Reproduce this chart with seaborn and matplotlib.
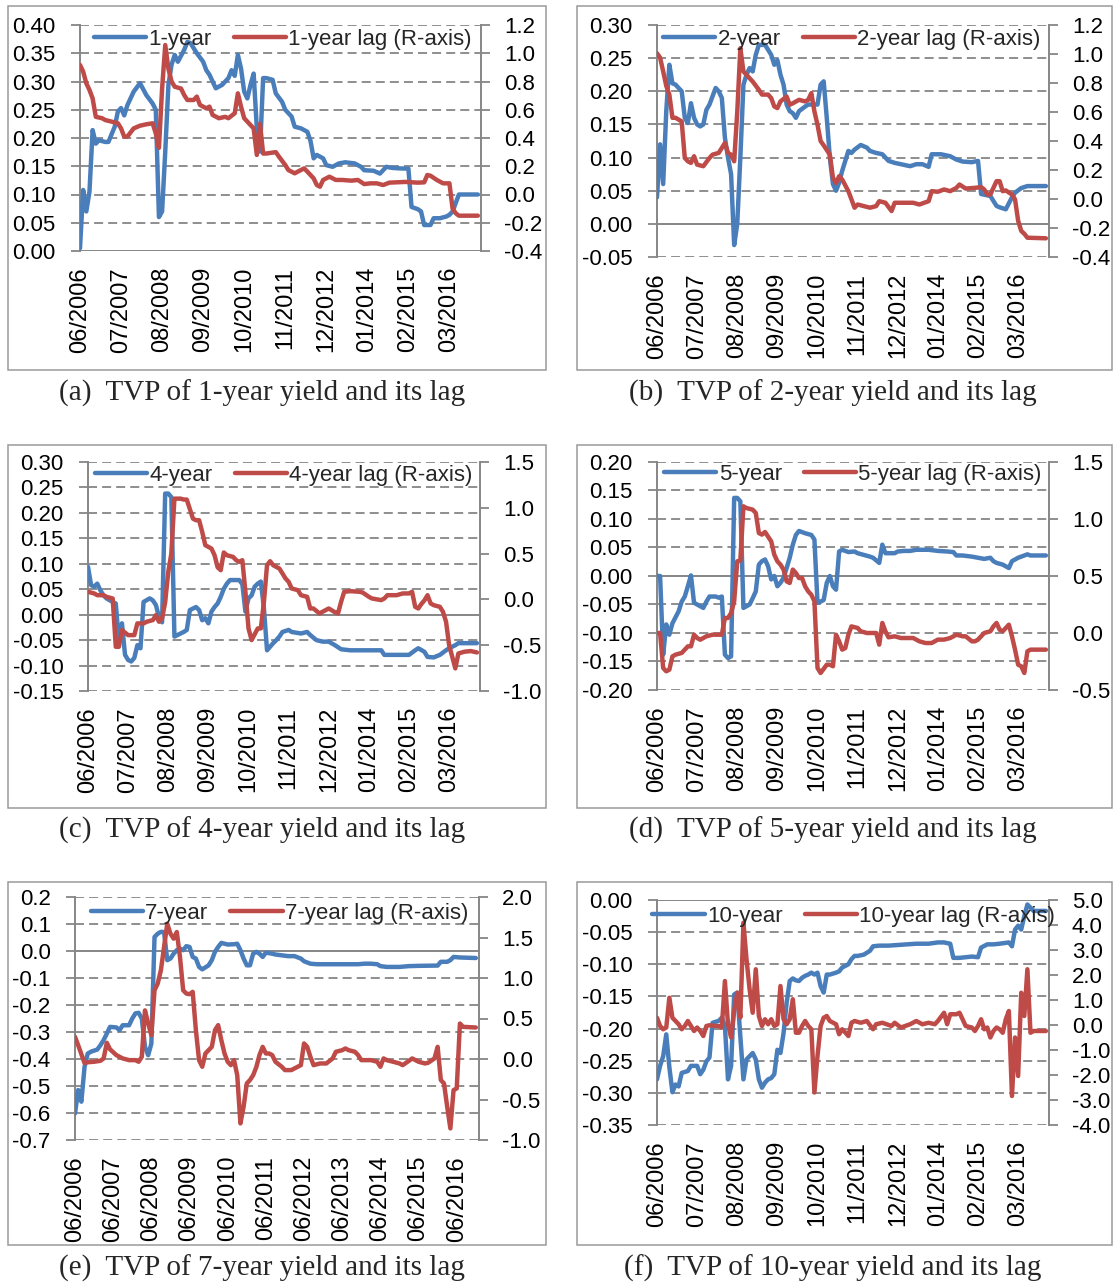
import numpy as np
import pandas as pd
import matplotlib
matplotlib.use('Agg')
import matplotlib.pyplot as plt
import seaborn as sns
from matplotlib.patches import Rectangle

# (month index, value); month 0 = 06/2006, 126 = 12/2016
one_y = [(0, .005), (1, .108), (2, .07), (3, .105), (4, .214), (5, .19), (6, .196), (8, .193), (9, .193), (11, .22),
         (12, .247), (13, .253), (14, .24), (15, .258), (17, .282), (19, .297), (21, .276), (23, .261), (24, .25),
         (25, .06), (26, .07), (27, .176), (28, .294), (29, .33), (30, .347), (31, .335), (33, .356), (34, .37),
         (35, .368), (37, .35), (39, .335), (40, .32), (41, .312), (42, .30), (43, .288), (45, .294), (47, .306),
         (48, .32), (49, .31), (50, .347), (51, .323), (52, .282), (53, .27), (54, .294), (55, .314), (56, .217),
         (57, .176), (58, .306), (59, .306), (61, .303), (62, .279), (64, .264), (65, .25), (66, .244), (67, .238),
         (68, .22), (70, .217), (72, .211), (73, .195), (74, .164), (75, .17), (77, .164), (78, .152), (80, .149),
         (82, .155), (84, .157), (87, .155), (89, .149), (90, .143), (93, .142), (95, .137), (96, .143), (97, .149),
         (99, .147), (102, .146), (104, .146), (105, .078), (107, .074), (108, .07), (109, .046), (111, .046),
         (112, .058), (114, .058), (116, .061), (117, .064), (118, .07), (119, .085), (120, .10), (126, .10)]
one_lag = [(0, .917), (1, .87), (2, .787), (3, .74), (4, .68), (5, .55), (7, .54), (8, .527), (10, .516), (12, .504),
           (13, .468), (14, .41), (15, .41), (17, .468), (19, .487), (21, .497), (23, .504), (24, .433), (25, .33),
           (26, .75), (27, 1.058), (28, .89), (29, .8), (30, .763), (32, .75), (33, .704), (34, .669), (36, .669),
           (37, .693), (38, .634), (40, .61), (41, .622), (42, .563), (44, .54), (46, .55), (47, .54), (49, .575),
           (50, .716), (51, .622), (52, .54), (54, .492), (55, .468), (56, .28), (57, .5), (58, .29), (59, .29),
           (62, .30), (63, .268), (65, .209), (66, .173), (68, .15), (69, .162), (71, .185), (72, .162), (74, .114),
           (75, .067), (76, .055), (77, .103), (79, .126), (81, .103), (83, .103), (86, .098), (88, .103), (90, .074),
           (92, .079), (94, .079), (96, .067), (98, .084), (100, .086), (103, .089), (107, .084), (109, .086),
           (110, .138), (111, .133), (113, .103), (115, .079), (117, .079), (118, -.1), (119, -.133), (120, -.15),
           (126, -.15)]

two_y = [(0, .04), (1, .12), (2, .06), (3, .17), (4, .24), (5, .212), (6, .21), (8, .20), (9, .16), (10, .152),
         (11, .182), (12, .16), (13, .15), (14, .147), (15, .15), (16, .172), (17, .18), (19, .205), (20, .20),
         (21, .19), (22, .13), (23, .10), (24, .075), (25, -.032), (26, .0), (27, .10), (28, .21), (29, .225),
         (30, .235), (31, .23), (32, .255), (33, .27), (35, .27), (37, .255), (38, .24), (39, .247), (40, .225),
         (41, .21), (42, .18), (43, .17), (44, .167), (45, .16), (46, .17), (48, .177), (49, .18), (52, .18),
         (53, .21), (54, .215), (55, .16), (56, .10), (57, .06), (58, .05), (59, .062), (60, .08), (62, .11),
         (63, .107), (64, .112), (66, .119), (68, .115), (69, .11), (71, .107), (73, .105), (75, .095), (77, .092),
         (79, .09), (82, .087), (84, .09), (86, .09), (88, .086), (89, .105), (92, .105), (95, .102), (97, .097),
         (99, .094), (102, .093), (104, .095), (105, .045), (108, .042), (110, .027), (111, .025), (113, .022),
         (115, .04), (116, .047), (118, .054), (120, .057), (126, .057)]
two_lag = [(0, 1.005), (1, .975), (2, .88), (3, .78), (4, .72), (5, .56), (6, .56), (8, .535), (9, .283), (10, .26),
           (11, .249), (12, .295), (13, .237), (15, .226), (17, .283), (18, .306), (20, .318), (22, .386), (23, .318),
           (24, .306), (25, .26), (26, .6), (27, 1.04), (28, .88), (30, .833), (31, .81), (33, .753), (34, .72),
           (36, .72), (37, .696), (38, .638), (39, .627), (40, .673), (42, .707), (43, .65), (44, .66), (46, .684),
           (48, .673), (49, .684), (50, .73), (51, .604), (52, .512), (53, .40), (54, .37), (56, .306), (57, .146),
           (58, .111), (59, .157), (60, .134), (62, .054), (63, -.003), (64, -.06), (65, -.038), (67, -.049),
           (69, -.06), (71, -.049), (72, -.015), (74, -.026), (76, -.083), (77, -.026), (80, -.026), (83, -.026),
           (85, -.038), (88, -.015), (89, .054), (91, .05), (93, .066), (95, .054), (97, .077), (98, .1), (100, .072),
           (103, .077), (105, .082), (106, .066), (107, .031), (108, .031), (110, .123), (111, .123), (112, .054),
           (113, .059), (115, .031), (116, -.003), (117, -.15), (118, -.22), (119, -.24), (120, -.267), (126, -.271)]

four_y = [(0, .094), (1, .058), (2, .055), (3, .061), (4, .048), (5, .038), (6, .032), (8, .025), (9, .022),
          (10, -.053), (11, -.017), (12, -.079), (13, -.089), (14, -.092), (15, -.085), (16, -.06), (17, -.066),
          (18, .025), (20, .032), (21, .028), (22, .019), (23, -.005), (24, -.015), (25, .238), (26, .238),
          (27, .231), (28, -.043), (30, -.037), (31, -.034), (32, -.03), (33, .009), (35, .015), (36, .009),
          (37, -.011), (38, -.007), (39, -.017), (40, .006), (41, .015), (42, .022), (43, .035), (44, .051),
          (45, .061), (46, .068), (49, .068), (50, .06), (51, .006), (52, .032), (53, .038), (54, .055), (55, .061),
          (56, .065), (57, .012), (58, -.07), (59, -.063), (60, -.056), (61, -.05), (62, -.043), (63, -.034),
          (65, -.03), (66, -.034), (69, -.037), (71, -.034), (72, -.04), (74, -.05), (76, -.053), (78, -.053),
          (80, -.06), (82, -.068), (85, -.07), (95, -.07), (96, -.079), (104, -.079), (106, -.07), (107, -.066),
          (109, -.073), (110, -.083), (112, -.084), (114, -.079), (116, -.07), (117, -.066), (119, -.06),
          (120, -.056), (126, -.056)]
four_lag = [(0, .083), (2, .065), (3, .046), (5, .046), (6, .028), (8, .01), (9, -.517), (10, -.517), (11, -.335),
            (13, -.39), (15, -.39), (16, -.262), (18, -.262), (19, -.244), (21, -.226), (22, -.172), (23, -.244),
            (24, -.208), (25, -.03), (26, .3), (27, .5), (28, 1.1), (30, 1.1), (31, 1.09), (32, 1.09), (34, .882),
            (35, .864), (36, .864), (37, .737), (38, .592), (40, .555), (41, .482), (42, .35), (43, .319), (44, .512),
            (45, .482), (47, .464), (48, .428), (49, .41), (50, .428), (51, .083), (52, -.317), (53, -.444),
            (55, -.317), (56, -.317), (57, -.026), (58, .373), (59, .417), (60, .373), (62, .337), (63, .283),
            (64, .228), (65, .192), (66, .119), (68, .101), (69, .046), (71, .028), (72, -.099), (73, -.099),
            (75, -.153), (76, -.135), (78, -.099), (80, -.14), (81, -.153), (82, -.026), (83, .083), (85, .09),
            (88, .083), (89, .075), (91, .028), (92, .01), (95, -.008), (96, .01), (97, .046), (100, .046),
            (102, .065), (104, .065), (105, .083), (106, -.081), (107, -.099), (108, -.05), (109, -.01), (110, .046),
            (111, -.044), (112, -.063), (114, -.081), (115, -.135), (116, -.244), (117, -.5), (118, -.626),
            (119, -.753), (120, -.59), (122, -.571), (124, -.564), (126, -.579)]

five_y = [(0, 0.), (1, 0.), (2, -.138), (3, -.085), (4, -.103), (5, -.083), (7, -.062), (8, -.045), (9, -.036),
          (10, -.018), (11, .001), (12, -.047), (14, -.053), (15, -.056), (16, -.045), (17, -.036), (19, -.036),
          (20, -.038), (21, -.036), (22, -.138), (23, -.144), (24, -.141), (25, .137), (26, .137), (27, .131),
          (28, -.056), (30, -.05), (31, -.039), (32, -.027), (33, .02), (34, .026), (35, .029), (36, .017),
          (37, -.006), (38, 0.), (39, -.018), (40, -.012), (41, -.003), (42, .014), (43, .032), (44, .055),
          (45, .072), (46, .079), (47, .077), (48, .075), (50, .072), (51, .064), (52, -.047), (53, -.045),
          (54, -.042), (55, -.012), (56, 0.), (57, -.018), (58, -.024), (59, .043), (60, .046), (62, .042),
          (64, .043), (65, .04), (67, .037), (69, .034), (70, .032), (72, .023), (73, .055), (74, .04), (77, .04),
          (78, .043), (80, .044), (82, .044), (84, .046), (88, .046), (91, .044), (94, .043), (96, .042), (97, .036),
          (99, .036), (102, .034), (104, .032), (106, .03), (108, .032), (109, .026), (110, .023), (112, .02),
          (113, .017), (114, .014), (115, .026), (117, .032), (118, .034), (120, .038), (121, .036), (126, .036)]
five_lag = [(0, 0.), (1, 0.), (2, -.307), (3, -.336), (4, -.322), (5, -.205), (6, -.19), (8, -.175), (9, -.146),
            (10, -.117), (11, -.117), (12, -.015), (13, -.044), (14, -.059), (16, -.029), (18, -.015), (21, -.015),
            (22, .132), (23, .132), (24, .175), (25, .278), (26, .629), (27, .635), (28, 1.111), (29, 1.096),
            (31, 1.082), (32, 1.053), (33, .877), (34, .863), (35, .886), (37, .804), (38, .687), (39, .629),
            (40, .6), (41, .556), (42, .453), (43, .439), (44, .556), (45, .526), (46, .482), (47, .482), (48, .409),
            (49, .365), (50, .336), (51, .278), (52, -.307), (53, -.351), (55, -.278), (56, -.278), (57, -.292),
            (58, -.015), (59, -.073), (60, -.146), (61, -.132), (62, -.015), (63, .058), (65, .044), (66, .015),
            (68, 0.), (71, 0.), (72, -.102), (73, .088), (74, .015), (75, -.038), (77, -.029), (79, -.044),
            (83, -.044), (85, -.073), (87, -.088), (89, -.088), (91, -.058), (93, -.058), (95, -.044), (97, -.015),
            (99, -.029), (100, -.029), (102, -.073), (103, -.073), (104, -.058), (106, 0.), (108, .015), (109, .058),
            (110, .088), (111, .029), (112, .015), (113, .044), (114, .073), (115, -.029), (116, -.146),
            (117, -.278), (118, -.292), (119, -.351), (120, -.161), (121, -.146), (126, -.146)]

seven_y = [(0, -.602), (1, -.515), (2, -.558), (3, -.429), (4, -.38), (5, -.373), (7, -.365), (8, -.349), (9, -.33),
           (10, -.306), (11, -.281), (13, -.283), (14, -.293), (15, -.275), (17, -.275), (18, -.25), (19, -.231),
           (20, -.229), (21, -.25), (22, -.355), (23, -.386), (24, -.343), (25, .052), (26, .064), (27, .071),
           (28, .07), (29, -.034), (30, -.028), (31, -.01), (32, .003), (33, .009), (34, .003), (35, .018),
           (36, .015), (37, -.022), (38, -.028), (39, -.059), (40, -.068), (42, -.053), (43, -.034), (44, -.003),
           (45, .015), (46, .03), (48, .024), (50, .025), (51, .027), (52, .003), (53, -.028), (54, -.053),
           (55, -.053), (56, -.01), (57, -.003), (58, -.01), (59, -.022), (60, -.006), (62, -.01), (63, -.013),
           (65, -.016), (67, -.019), (69, -.019), (71, -.028), (72, -.038), (74, -.047), (76, -.049), (89, -.049),
           (91, -.047), (93, -.047), (95, -.049), (96, -.056), (98, -.059), (102, -.059), (105, -.056), (108, -.055),
           (114, -.054), (115, -.04), (117, -.04), (118, -.034), (119, -.022), (121, -.024), (126, -.026)]
seven_lag = [(0, .274), (1, .17), (2, .06), (3, -.05), (4, -.04), (6, -.034), (8, -.022), (9, .007), (10, .2),
             (11, .12), (13, .048), (15, .007), (17, -.014), (19, -.014), (20, -.034), (21, .027), (22, .6),
             (23, .44), (24, .294), (25, .849), (26, .931), (27, 1.096), (28, 1.383), (29, 1.67), (30, 1.548),
             (31, 1.486), (32, 1.568), (33, 1.26), (34, .849), (35, .808), (36, .8), (37, .829), (38, .356),
             (39, -.014), (40, -.096), (41, .068), (42, .109), (43, .15), (44, .356), (45, .418), (46, .233),
             (47, .068), (48, -.034), (49, -.076), (50, -.014), (51, -.2), (52, -.795), (53, -.589), (54, -.302),
             (55, -.26), (56, -.2), (57, -.1), (58, .05), (59, .15), (60, .068), (61, .068), (62, .048), (63, -.034),
             (65, -.096), (66, -.137), (68, -.137), (70, -.096), (71, -.076), (72, .192), (73, .15), (74, .027),
             (75, -.076), (77, -.055), (79, -.055), (81, .007), (82, .089), (84, .109), (85, .13), (86, .109),
             (88, .089), (89, .048), (90, -.014), (93, -.014), (95, -.034), (96, -.096), (97, .007), (98, -.014),
             (100, -.034), (102, -.055), (103, -.076), (105, -.022), (106, .007), (108, -.034), (110, -.055),
             (111, -.047), (113, .007), (114, .15), (115, -.26), (116, -.302), (117, -.589), (118, -.857),
             (119, -.384), (120, -.363), (121, .438), (122, .397), (126, .389)]

ten_y = [(0, -.279), (1, -.258), (2, -.243), (3, -.209), (4, -.26), (5, -.299), (6, -.287), (7, -.29), (8, -.269),
         (10, -.266), (11, -.258), (13, -.258), (14, -.271), (15, -.264), (16, -.251), (17, -.245), (18, -.191),
         (20, -.188), (21, -.183), (22, -.196), (23, -.279), (24, -.258), (25, -.147), (26, -.144), (27, -.212),
         (28, -.279), (29, -.248), (30, -.243), (31, -.238), (32, -.248), (33, -.279), (34, -.292), (35, -.284),
         (36, -.279), (37, -.277), (38, -.271), (39, -.233), (40, -.238), (41, -.207), (42, -.16), (43, -.126),
         (44, -.122), (45, -.125), (46, -.126), (47, -.121), (48, -.118), (49, -.116), (50, -.113), (51, -.116),
         (52, -.113), (53, -.134), (54, -.144), (55, -.116), (56, -.116), (58, -.113), (59, -.111), (60, -.105),
         (62, -.1), (63, -.092), (64, -.087), (65, -.087), (67, -.085), (69, -.079), (70, -.072), (72, -.071),
         (75, -.071), (78, -.07), (81, -.069), (84, -.068), (88, -.068), (91, -.066), (93, -.066), (95, -.068),
         (96, -.09), (98, -.09), (100, -.089), (102, -.088), (104, -.089), (105, -.074), (107, -.069), (109, -.069),
         (111, -.068), (114, -.066), (115, -.072), (116, -.046), (117, -.04), (118, -.046), (119, -.025),
         (120, -.007), (121, -.012), (122, -.017), (126, -.017)]
ten_lag = [(0, .29), (1, -.04), (2, -.17), (3, -.1), (4, 1.09), (5, .29), (6, .16), (7, .03), (8, -.17), (9, -.04),
           (10, .16), (11, -.04), (12, -.24), (13, -.1), (14, -.24), (15, -.44), (16, -.04), (17, -.01), (19, -.04),
           (20, -.04), (21, -.1), (22, 1.76), (23, .03), (24, -.5), (25, .56), (26, 1.29), (27, .3), (28, 4.09),
           (29, 2.63), (30, 1.43), (31, .49), (32, 2.23), (33, .36), (34, -.04), (35, .23), (36, .03), (37, .23),
           (38, -.04), (39, .03), (40, 1.56), (41, .23), (42, .03), (43, .23), (44, 1.03), (45, -.31), (46, -.31),
           (47, -.04), (48, .16), (49, -.04), (50, -.17), (51, -2.7), (52, -1.24), (53, -.04), (54, .29), (55, .36),
           (56, .16), (58, .03), (59, -.37), (60, -.17), (61, -.3), (62, -.44), (63, .09), (64, .16), (66, .09),
           (68, .16), (70, -.17), (71, .03), (73, .09), (76, -.04), (77, .09), (79, -.1), (82, .03), (84, .16),
           (86, .03), (88, .09), (90, .03), (91, .16), (93, .49), (94, .03), (95, .43), (97, .43), (98, .49),
           (99, .23), (100, -.04), (102, -.1), (103, -.24), (104, -.04), (105, .23), (106, -.17), (107, -.1),
           (108, -.5), (109, -.24), (110, -.1), (111, -.17), (112, -.31), (113, .23), (114, .56), (115, -2.84),
           (116, -.5), (117, -2.04), (118, 1.29), (119, .36), (120, 2.23), (121, -.31), (122, -.24), (126, -.24)]

tick_labels = ['06/2006', '07/2007', '08/2008', '09/2009', '10/2010', '11/2011', '12/2012', '01/2014', '02/2015',
               '03/2016']
tick_labels_e = ['06/2006', '06/2007', '06/2008', '06/2009', '06/2010', '06/2011', '06/2012', '06/2013', '06/2014',
                 '06/2015', '06/2016']

W, H = 1114, 1283
GRAY = '#868686'
BLUE = '#4A7EBB'
RED = '#BE4B48'
GRID_DASH = (0, (5, 2.8))
LW = 3.2

# pixel boxes: plot area, outer frame, legend anchor, caption centre
panels = [
    dict(tag='a', name='1-year', main=one_y, lag=one_lag, area=(80, 25, 481, 251), frame=(8, 6, 546, 370),
         lt=(0.0, 0.40, 0.05), rt=(-0.4, 1.2, 0.2), lfmt='{:.2f}', ticks=tick_labels, leg=(0.506, 0.938),
         cap=(262, 393)),
    dict(tag='b', name='2-year', main=two_y, lag=two_lag, area=(657, 25, 1049, 257), frame=(577, 6, 1112, 370),
         lt=(-0.05, 0.30, 0.05), rt=(-0.4, 1.2, 0.2), lfmt='{:.2f}', ticks=tick_labels, leg=(0.497, 0.939),
         cap=(833, 393)),
    dict(tag='c', name='4-year', main=four_y, lag=four_lag, area=(88, 462, 480, 691), frame=(8, 445, 546, 808),
         lt=(-0.15, 0.30, 0.05), rt=(-1.0, 1.5, 0.5), lfmt='{:.2f}', ticks=tick_labels, leg=(0.5, 0.942),
         cap=(262, 830)),
    dict(tag='d', name='5-year', main=five_y, lag=five_lag, area=(657, 462, 1049, 690), frame=(577, 445, 1112, 808),
         lt=(-0.20, 0.20, 0.05), rt=(-0.5, 1.5, 0.5), lfmt='{:.2f}', ticks=tick_labels, leg=(0.5, 0.944),
         cap=(833, 830)),
    dict(tag='e', name='7-year', main=seven_y, lag=seven_lag, area=(75, 897, 479, 1140), frame=(8, 882, 546, 1245),
         lt=(-0.7, 0.2, 0.1), rt=(-1.0, 2.0, 0.5), lfmt='{:.1f}', ticks=tick_labels_e, leg=(0.506, 0.933),
         cap=(262, 1268)),
    dict(tag='f', name='10-year', main=ten_y, lag=ten_lag, area=(657, 900, 1049, 1125),
         frame=(577, 882, 1112, 1245), lt=(-0.35, 0.0, 0.05), rt=(-4.0, 5.0, 1.0), lfmt='{:.2f}',
         ticks=tick_labels, leg=(0.502, 0.927), cap=(833, 1268)),
]

sns.set_style('white')
plt.rcParams['font.family'] = ['Liberation Sans', 'DejaVu Sans']
plt.rcParams['axes.unicode_minus'] = False


def month_index(label):
    mm, yyyy = label.split('/')
    return (int(yyyy) - 2006) * 12 + int(mm) - 6


def fig_rect(l, t, r, b):
    return [l / W, 1 - b / H, (r - l) / W, (b - t) / H]


def tick_values(lo, hi, step):
    n = int(round((hi - lo) / step))
    return [round(lo + i * step, 4) + 0.0 for i in range(n + 1)]


def fmt(f, v):
    return f.format(0.0 if abs(v) < 1e-9 else v)


fig = plt.figure(figsize=(W / 100, H / 100), dpi=100)
fig.patch.set_facecolor('white')

for p in panels:
    l, t, r, b = p['frame']
    fig.add_artist(Rectangle((l / W, 1 - b / H), (r - l) / W, (b - t) / H, transform=fig.transFigure,
                             fill=False, edgecolor='#9A9A9A', linewidth=1.1))

    ax = fig.add_axes(fig_rect(*p['area']))
    ax2 = ax.twinx()

    main = pd.DataFrame(p['main'], columns=['month', 'value'])
    lag = pd.DataFrame(p['lag'], columns=['month', 'value'])

    lticks = tick_values(*p['lt'])
    rticks = tick_values(*p['rt'])

    for v in lticks:
        if abs(v) < 1e-9:
            ax.axhline(v, color=GRAY, lw=1.4, zorder=1)
        else:
            ax.axhline(v, color=GRAY, lw=1.3, ls=GRID_DASH, zorder=0.5)

    sns.lineplot(data=main, x='month', y='value', ax=ax, color=BLUE, lw=LW, errorbar=None, legend=False, zorder=3)
    sns.lineplot(data=lag, x='month', y='value', ax=ax2, color=RED, lw=LW, errorbar=None, legend=False, zorder=3)
    h1 = ax.lines[-1]
    h2 = ax2.lines[-1]

    ax.set_xlim(0, 127)
    ax.set_ylim(lticks[0], lticks[-1])
    ax2.set_ylim(rticks[0], rticks[-1])

    ax.set_yticks(lticks)
    ax.set_yticklabels([fmt(p['lfmt'], v) for v in lticks])
    ax2.set_yticks(rticks)
    ax2.set_yticklabels([fmt('{:.1f}', v) for v in rticks])

    ax.set_xticks([month_index(s) for s in p['ticks']])
    ax.set_xticklabels(p['ticks'], rotation=90, va='top', ha='center')

    ax.set_xlabel('')
    ax.set_ylabel('')
    ax2.set_ylabel('')

    ax.tick_params(axis='y', direction='out', length=6.5, width=1.3, color=GRAY, pad=11, labelsize=16,
                   labelcolor='black')
    ax2.tick_params(axis='y', direction='out', length=6.5, width=1.3, color=GRAY, pad=10, labelsize=16,
                    labelcolor='black')
    ax.tick_params(axis='x', length=0, pad=11.5, labelsize=17, labelcolor='black')

    for s in ['top', 'bottom', 'right']:
        ax.spines[s].set_visible(False)
    for s in ['top', 'bottom', 'left']:
        ax2.spines[s].set_visible(False)
    ax.spines['left'].set_color(GRAY)
    ax.spines['left'].set_linewidth(1.4)
    ax2.spines['right'].set_color(GRAY)
    ax2.spines['right'].set_linewidth(1.4)
    ax.patch.set_alpha(0)

    leg = ax2.legend([h1, h2], [p['name'], p['name'] + ' lag (R-axis)'], loc='center', bbox_to_anchor=p['leg'],
                     ncol=2, frameon=False, fontsize=16, handlelength=2.35, handletextpad=0.1, columnspacing=1.0,
                     borderpad=0, borderaxespad=0)
    leg.set_zorder(10)

    cx, cy = p['cap']
    fig.text(cx / W, 1 - cy / H, '(%s)  TVP of %s yield and its lag' % (p['tag'], p['name']), ha='center',
             va='center', fontsize=21, family=['Liberation Serif', 'DejaVu Serif'])

fig.savefig('out.png', dpi=100, facecolor='white')
